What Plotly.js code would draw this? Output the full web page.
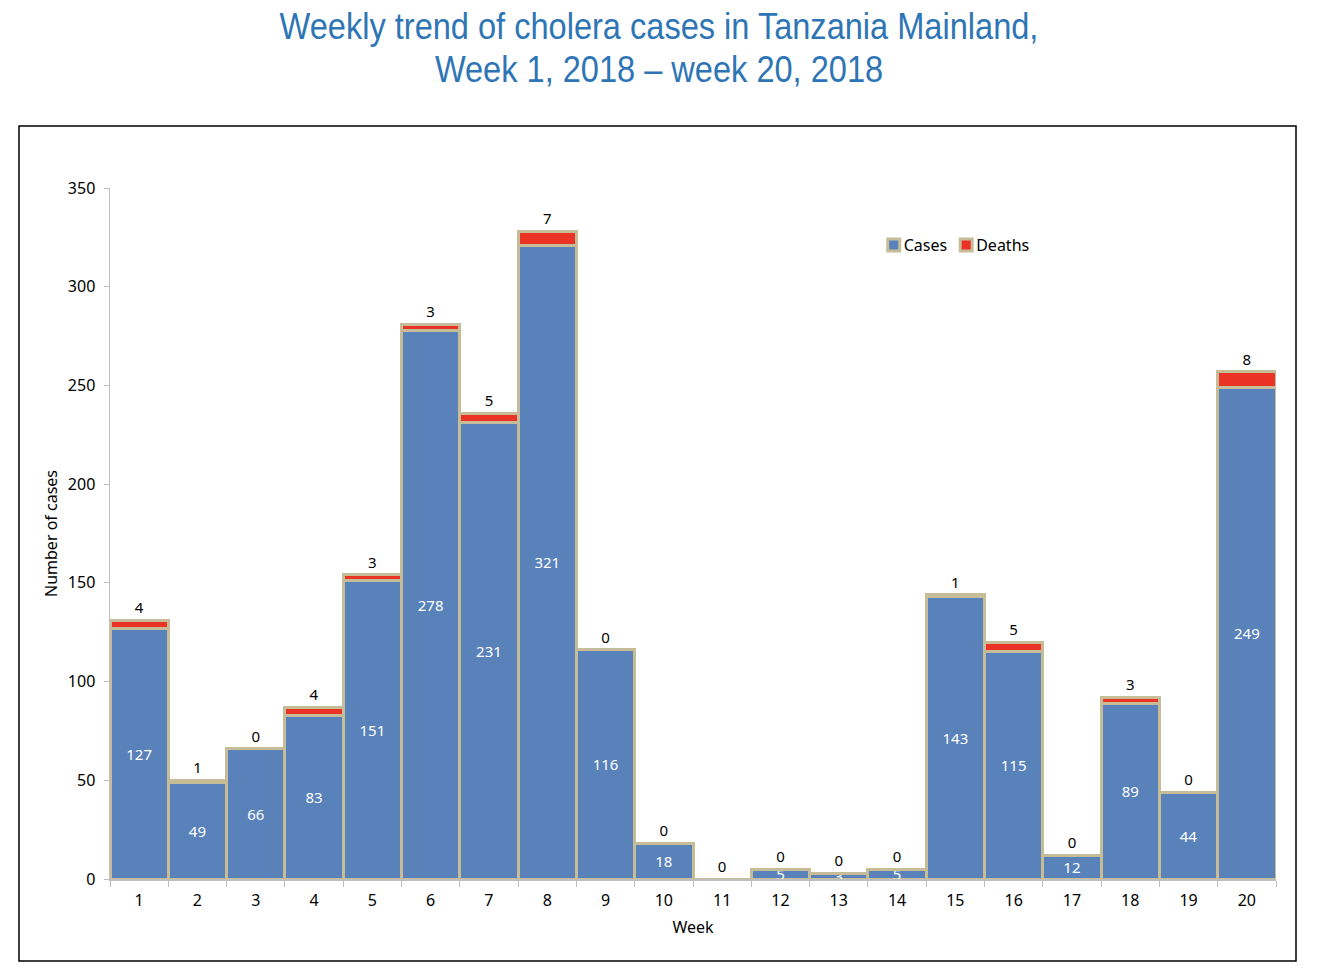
<!DOCTYPE html>
<html>
<head>
<meta charset="utf-8">
<script src="https://cdn.plot.ly/plotly-3.0.1.min.js"></script>
<style>
  body { margin: 0; background: #ffffff; }
  #chart { width: 1318px; height: 978px; }
</style>
</head>
<body>
<div id="chart"></div>
<script>
// weekly cholera data, Tanzania Mainland 2018
var weeks  = ['1', '2', '3', '4', '5', '6', '7', '8', '9', '10',
              '11', '12', '13', '14', '15', '16', '17', '18', '19', '20'];
var cases  = [127, 49, 66, 83, 151, 278, 231, 321, 116, 18,
              0, 5, 3, 5, 143, 115, 12, 89, 44, 249];
var deaths = [4, 1, 0, 4, 3, 3, 5, 7, 0, 0,
              0, 0, 0, 0, 1, 5, 0, 3, 0, 8];

var outline = 'rgb(198,189,152)';
var font_body = 'Noto Sans, Open Sans, sans-serif';

var trace_cases = {
	x: weeks,
	y: cases,
	type: 'bar',
	name: 'Cases',
	text: cases.map(String),
	textposition: 'inside',
	insidetextanchor: 'middle',
	constraintext: 'none',
	textangle: 0,
	textfont: { color: '#ffffff', size: 15, family: font_body },
	hoverinfo: 'none',
	marker: {
		color: 'rgb(88,130,185)',
		line: { color: outline, width: 3 }
	}
};

var trace_deaths = {
	x: weeks,
	y: deaths,
	type: 'bar',
	name: 'Deaths',
	text: deaths.map(String),
	textposition: 'outside',
	constraintext: 'none',
	textangle: 0,
	cliponaxis: false,
	textfont: { color: '#000000', size: 15, family: font_body },
	hoverinfo: 'none',
	marker: {
		color: 'rgb(234,51,36)',
		line: { color: outline, width: 3 }
	}
};

var layout = {
	width: 1318,
	height: 978,
	margin: { l: 110, r: 42, t: 188, b: 99 },
	paper_bgcolor: '#ffffff',
	plot_bgcolor: '#ffffff',
	barmode: 'stack',
	bargap: 0,
	font: { family: font_body, size: 16, color: '#000000' },
	title: {
		text: 'Weekly trend of cholera cases in Tanzania Mainland,<br>Week 1, 2018 \u2013 week 20, 2018',
		font: { family: 'Liberation Sans, Arial, sans-serif', size: 37, color: 'rgb(46,117,182)' },
		x: 0.5,
		xref: 'container',
		xanchor: 'center',
		yref: 'container',
		y: 1 - 39 / 978,
		yanchor: 'middle'
	},
	xaxis: {
		type: 'category',
		title: { text: 'Week', font: { size: 16 }, standoff: 12 },
		showline: true,
		linecolor: '#bfbfbf',
		linewidth: 1.5,
		ticks: 'outside',
		tickson: 'boundaries',
		ticklen: 6,
		tickcolor: '#bfbfbf',
		ticklabelstandoff: 6,
		showgrid: false,
		tickfont: { size: 16 }
	},
	yaxis: {
		title: { text: 'Number of cases', font: { size: 16 }, standoff: 6 },
		range: [0, 350],
		dtick: 50,
		showline: true,
		linecolor: '#bfbfbf',
		linewidth: 1.5,
		ticks: 'outside',
		ticklen: 5,
		tickcolor: '#bfbfbf',
		ticklabelstandoff: 5,
		showgrid: false,
		zeroline: false,
		tickfont: { size: 16 }
	},
	legend: {
		orientation: 'h',
		x: 0.655,
		y: 0.9175,
		xanchor: 'left',
		yanchor: 'middle',
		font: { size: 16 },
		itemwidth: 30,
		traceorder: 'normal'
	},
	shapes: [{
		type: 'rect',
		xref: 'paper', yref: 'paper',
		x0: (19 - 110) / 1166, x1: (1296 - 110) / 1166,
		y0: (879 - 961) / 691, y1: (879 - 126) / 691,
		line: { color: '#000000', width: 1.5 },
		fillcolor: 'rgba(0,0,0,0)'
	}]
};

Plotly.newPlot('chart', [trace_cases, trace_deaths], layout, { displayModeBar: false, staticPlot: true }).then(function(gd) {
	// squeeze the title horizontally and tighten its line spacing, the original uses a condensed face
	var t = gd.querySelector('.gtitle');
	if (t) {
		var cx = 1318 / 2;
		t.setAttribute('transform', 'translate(' + cx + ',0) scale(0.88,1) translate(' + (-cx) + ',0)');
		var lines = t.querySelectorAll('tspan.line');
		for (var i = 1; i < lines.length; i++) lines[i].setAttribute('dy', '1.15em');
	}
	// pull legend text closer to its swatch, and the two items closer together
	var items = gd.querySelectorAll('.legend .traces');
	for (var k = 0; k < items.length; k++) {
		var txt = items[k].querySelector('.legendtext');
		if (txt) txt.setAttribute('x', +txt.getAttribute('x') - 10);
		if (k > 0) {
			var tr = items[k].getAttribute('transform');
			var m = /translate\(([-\d.]+)[ ,]+([-\d.]+)\)/.exec(tr);
			if (m) items[k].setAttribute('transform', 'translate(' + (+m[1] - 16 * k) + ',' + m[2] + ')');
		}
	}
});
</script>
</body>
</html>
